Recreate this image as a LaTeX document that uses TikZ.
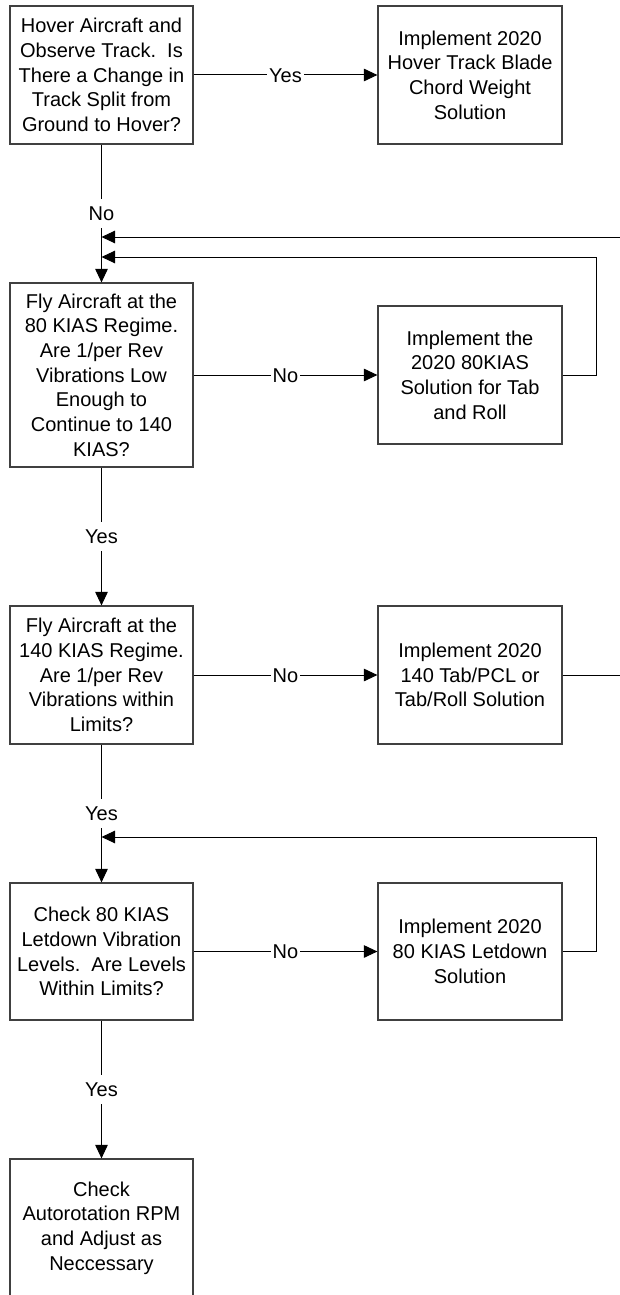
\documentclass[tikz,border=0pt]{standalone}
\usepackage{fontspec}
\setmainfont{Liberation Sans}
\usetikzlibrary{arrows.meta}
\begin{document}
\begin{tikzpicture}[x=1pt,y=-1pt,
  every node/.style={font=\fontsize{20pt}{24.7pt}\selectfont},
  box/.style={draw=black!75,line width=1.2pt,fill=white,align=center,inner sep=0pt,minimum width=183pt},
  lbl/.style={fill=white,inner sep=1.75pt,text height=19.9pt,text depth=5.6pt},
  conn/.style={draw=black,line width=1pt},
  arr/.style={conn,-{Triangle[length=13.5pt,width=12.5pt]}}]
\useasboundingbox (0,0) rectangle (619,1295);
\node[box,minimum height=138pt] (A) at (101.5,75) {Hover Aircraft and\\Observe Track.\ \ Is\\There a Change in\\Track Split from\\Ground to Hover?};
\node[box,minimum height=138pt,minimum width=184pt] (B) at (470,75) {Implement 2020\\Hover Track Blade\\Chord Weight\\Solution};
\node[box,minimum height=184pt] (C) at (101.5,375) {Fly Aircraft at the\\80 KIAS Regime.\\Are 1/per Rev\\Vibrations Low\\Enough to\\Continue to 140\\KIAS?};
\node[box,minimum height=138pt,minimum width=184pt] (D) at (470,375) {Implement the\\2020 80KIAS\\Solution for Tab\\and Roll};
\node[box,minimum height=138pt] (E) at (101.5,675) {Fly Aircraft at the\\140 KIAS Regime.\\Are 1/per Rev\\Vibrations within\\Limits?};
\node[box,minimum height=138pt,minimum width=184pt] (F) at (470,675) {Implement 2020\\140 Tab/PCL or\\Tab/Roll Solution};
\node[box,minimum height=137pt] (G) at (101.5,951.5) {Check 80 KIAS\\Letdown Vibration\\Levels.\ \ Are Levels\\Within Limits?};
\node[box,minimum height=137pt,minimum width=184pt] (H) at (470,951.5) {Implement 2020\\80 KIAS Letdown\\Solution};
\node[box,minimum height=138pt] (I) at (101.5,1228) {Check\\Autorotation RPM\\and Adjust as\\Neccessary};
\coordinate (j1) at (101.5,237);
\coordinate (j2) at (101.5,257);
\coordinate (j3) at (101.5,837);
% main horizontal connectors
\draw[arr] (A.east) -- node[lbl]{Yes} (B.west);
\draw[arr] (C.east) -- node[lbl]{No} (D.west);
\draw[arr] (E.east) -- node[lbl]{No} (F.west);
\draw[arr] (G.east) -- node[lbl]{No} (H.west);
% spine
\draw[arr] (A.south) -- node[lbl]{No} (C.north);
\draw[arr] (C.south) -- node[lbl]{Yes} (E.north);
\draw[arr] (E.south) -- node[lbl]{Yes} (G.north);
\draw[arr] (G.south) -- node[lbl]{Yes} (I.north);
% return loops
\draw[arr] (D.east) -- ++(34,0) |- (j2);
\draw[arr] (F.east) -- ++(75,0) |- (j1);
\draw[arr] (H.east) -- ++(34,0) |- (j3);
\end{tikzpicture}
\end{document}
